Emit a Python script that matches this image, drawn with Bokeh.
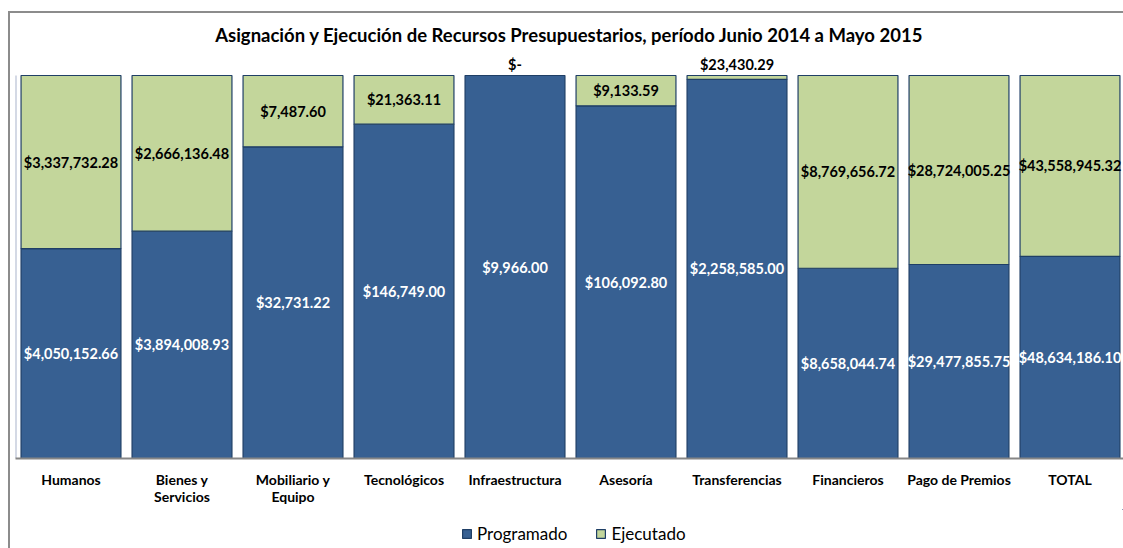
from bokeh.plotting import figure
from bokeh.layouts import column
from bokeh.models import ColumnDataSource, FixedTicker, Range1d, Legend, LegendItem
from bokeh.core.properties import value
from bokeh.embed import file_html
from bokeh.resources import INLINE

categories = ["Humanos", "Bienes y\nServicios", "Mobiliario y\nEquipo", "Tecnológicos",
              "Infraestructura", "Asesoría", "Transferencias", "Financieros",
              "Pago de Premios", "TOTAL"]
programado = [4050152.66, 3894008.93, 32731.22, 146749.00, 9966.00, 106092.80,
              2258585.00, 8658044.74, 29477855.75, 48634186.10]
ejecutado = [3337732.28, 2666136.48, 7487.60, 21363.11, 0.0, 9133.59,
             23430.29, 8769656.72, 28724005.25, 43558945.32]
series = ["Programado", "Ejecutado"]

BLUE = "#376092"
GREEN = "#c3d69b"
EDGE = "#1f3f66"
FONT = "Lato"


def money(v):
    if v == 0:
        return "$-"
    return "${:,.2f}".format(v)


xs = list(range(len(categories)))
tot = [a + b for a, b in zip(programado, ejecutado)]
prog_share = [a / t for a, t in zip(programado, tot)]
ejec_share = [b / t for b, t in zip(ejecutado, tot)]

src = ColumnDataSource(dict(x=xs, prog=prog_share, ejec=ejec_share))

prog_y = [s / 2 for s in prog_share]
ejec_y = []
ejec_off = []
for s, e in zip(prog_share, ejec_share):
    if e < 0.03:
        ejec_y.append(1.0)
        ejec_off.append(-11)
    else:
        ejec_y.append(s + e / 2)
        ejec_off.append(0)

lab_prog = ColumnDataSource(dict(x=xs, y=prog_y, t=[money(v) for v in programado]))
lab_ejec = ColumnDataSource(dict(x=xs, y=ejec_y, off=ejec_off, t=[money(v) for v in ejecutado]))

# outer frame offset (border drawn via CSS on the wrapping column)
OFF_X, OFF_Y, BW = 8, 11, 2
TOTAL_W = 1123 - OFF_X - BW
LEFT, TOP, BOTTOM_PAD = 15 - OFF_X - BW, 52 - OFF_Y - BW, 51
FW, FH = TOTAL_W - LEFT, 405
cat_px = 111.0
x_start = -0.5
x_end = x_start + FW / cat_px
unit_px = 383.0
y_end = FH / unit_px

p = figure(frame_width=FW, frame_height=FH, output_backend="svg", toolbar_location=None,
           x_range=Range1d(x_start, x_end), y_range=Range1d(0, y_end),
           min_border_left=LEFT, min_border_right=0, min_border_top=TOP,
           min_border_bottom=BOTTOM_PAD)

p.title.text = "Asignación y Ejecución de Recursos Presupuestarios, período Junio 2014 a Mayo 2015"
p.title.align = "center"
p.title.text_font = FONT
p.title.text_font_size = "18.5px"
p.title.text_font_style = "bold"
p.title.text_color = "#000000"
p.title.standoff = 16

p.outline_line_color = None
p.xgrid.visible = False
p.ygrid.visible = False
p.yaxis.visible = False

p.xaxis.ticker = FixedTicker(ticks=xs)
p.xaxis.major_label_overrides = {i: c for i, c in zip(xs, categories)}
p.xaxis.major_tick_line_color = None
p.xaxis.minor_tick_line_color = None
p.xaxis.axis_line_color = "#868686"
p.xaxis.axis_line_width = 2
p.xaxis.major_label_text_font = FONT
p.xaxis.major_label_text_font_style = "bold"
p.xaxis.major_label_text_font_size = "14px"
p.xaxis.major_label_text_line_height = 1.05
p.xaxis.major_label_text_color = "#000000"
p.xaxis.major_label_standoff = 6

p.vbar_stack(["prog", "ejec"], x="x", width=0.9, source=src,
             fill_color=[BLUE, GREEN], line_color=EDGE, line_width=1.2)

p.segment(x0=[x_start], y0=[0], x1=[x_start], y1=[1], line_color="#aab4cc", line_width=2)

p.text(x="x", y="y", text="t", source=lab_prog, text_align="center", text_baseline="middle",
       text_color="white", text_font=value(FONT), text_font_style="bold", text_font_size="14.5px")
p.text(x="x", y="y", text="t", source=lab_ejec, y_offset="off", text_align="center",
       text_baseline="middle", text_color="black", text_font=value(FONT),
       text_font_style="bold", text_font_size="14.5px")

# legend strip (its swatch renderers draw the same data, out of this strip's view)
LH = 40
pl = figure(width=TOTAL_W, height=LH, output_backend="svg", toolbar_location=None,
            x_range=Range1d(-30, -29), y_range=Range1d(-30, -29),
            min_border_left=0, min_border_right=0, min_border_top=0, min_border_bottom=0)
pl.xaxis.visible = False
pl.yaxis.visible = False
pl.xgrid.visible = False
pl.ygrid.visible = False
pl.outline_line_color = None
r_prog = pl.vbar(x="x", top="prog", width=0.9, source=src,
                 fill_color=BLUE, line_color=EDGE, line_width=1.2)
r_ejec = pl.vbar(x="x", top="ejec", width=0.9, source=src,
                 fill_color=GREEN, line_color=EDGE, line_width=1.2)

legend = Legend(items=[LegendItem(label=series[0], renderers=[r_prog]),
                       LegendItem(label=series[1], renderers=[r_ejec])],
                orientation="horizontal", location=(462 - OFF_X - BW - 6, 5))
legend.label_text_font = FONT
legend.label_text_font_size = "17px"
legend.label_text_color = "#000000"
legend.glyph_width = 11
legend.glyph_height = 11
legend.spacing = 28
legend.label_standoff = 5
legend.border_line_color = None
legend.background_fill_alpha = 0
legend.margin = 0
legend.padding = 2
pl.add_layout(legend, "center")

layout = column(p, pl, spacing=0,
                styles={"border-left": f"{BW}px solid #8c8c8c",
                        "border-top": f"{BW}px solid #8c8c8c",
                        "margin-left": f"{OFF_X}px", "margin-top": f"{OFF_Y}px"})

open("out.html", "w").write(file_html(layout, INLINE))
